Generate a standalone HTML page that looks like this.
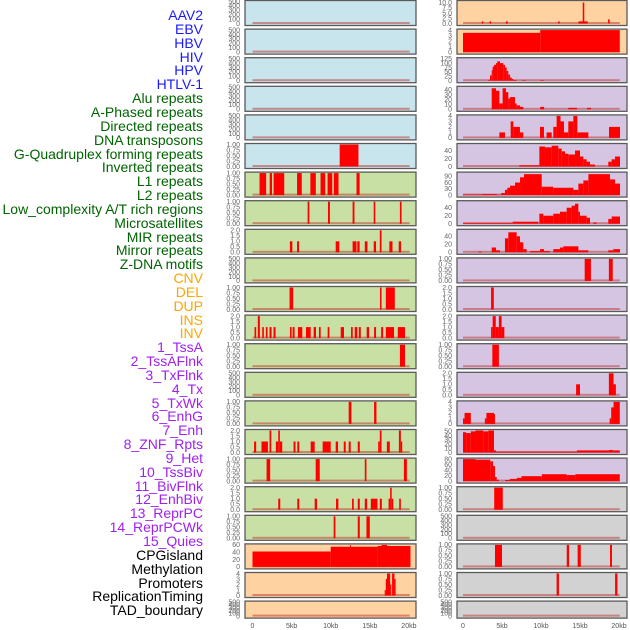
<!DOCTYPE html>
<html><head><meta charset="utf-8"><style>
html,body{margin:0;padding:0;background:#fff;}
svg{display:block;font-family:"Liberation Sans",sans-serif;}
</style></head><body>
<svg id="chart" width="630" height="630" viewBox="0 0 630 630" xmlns="http://www.w3.org/2000/svg">
<g id="labels" font-size="14" text-anchor="end">
<text x="203" y="20" fill="#1a1aff">AAV2</text>
<text x="203" y="34" fill="#1a1aff">EBV</text>
<text x="203" y="48" fill="#1a1aff">HBV</text>
<text x="203" y="62" fill="#1a1aff">HIV</text>
<text x="203" y="75" fill="#1a1aff">HPV</text>
<text x="203" y="89" fill="#1a1aff">HTLV-1</text>
<text x="203" y="103" fill="#006400">Alu repeats</text>
<text x="203" y="117" fill="#006400">A-Phased repeats</text>
<text x="203" y="131" fill="#006400">Directed repeats</text>
<text x="203" y="145" fill="#006400">DNA transposons</text>
<text x="203" y="159" fill="#006400">G-Quadruplex forming repeats</text>
<text x="203" y="172" fill="#006400">Inverted repeats</text>
<text x="203" y="186" fill="#006400">L1 repeats</text>
<text x="203" y="200" fill="#006400">L2 repeats</text>
<text x="203" y="214" fill="#006400">Low_complexity A/T rich regions</text>
<text x="203" y="228" fill="#006400">Microsatellites</text>
<text x="203" y="242" fill="#006400">MIR repeats</text>
<text x="203" y="255" fill="#006400">Mirror repeats</text>
<text x="203" y="269" fill="#006400">Z-DNA motifs</text>
<text x="203" y="283" fill="#ffa500">CNV</text>
<text x="203" y="297" fill="#ffa500">DEL</text>
<text x="203" y="311" fill="#ffa500">DUP</text>
<text x="203" y="325" fill="#ffa500">INS</text>
<text x="203" y="338" fill="#ffa500">INV</text>
<text x="203" y="352" fill="#a020f0">1_TssA</text>
<text x="203" y="366" fill="#a020f0">2_TssAFlnk</text>
<text x="203" y="380" fill="#a020f0">3_TxFlnk</text>
<text x="203" y="394" fill="#a020f0">4_Tx</text>
<text x="203" y="408" fill="#a020f0">5_TxWk</text>
<text x="203" y="421" fill="#a020f0">6_EnhG</text>
<text x="203" y="435" fill="#a020f0">7_Enh</text>
<text x="203" y="449" fill="#a020f0">8_ZNF_Rpts</text>
<text x="203" y="463" fill="#a020f0">9_Het</text>
<text x="203" y="477" fill="#a020f0">10_TssBiv</text>
<text x="203" y="491" fill="#a020f0">11_BivFlnk</text>
<text x="203" y="504" fill="#a020f0">12_EnhBiv</text>
<text x="203" y="518" fill="#a020f0">13_ReprPC</text>
<text x="203" y="532" fill="#a020f0">14_ReprPCWk</text>
<text x="203" y="546" fill="#a020f0">15_Quies</text>
<text x="203" y="560" fill="#000">CPGisland</text>
<text x="203" y="574" fill="#000">Methylation</text>
<text x="203" y="588" fill="#000">Promoters</text>
<text x="203" y="601" fill="#000">ReplicationTiming</text>
<text x="203" y="615" fill="#000">TAD_boundary</text>
</g>
<g id="panels"></g>
<g id="xaxis" font-size="7" fill="#555" text-anchor="middle"></g>
</svg>
<script>
// segments: [startKb, endKb, value]
const L5=[[11.15,13.55,1]];
const L6=[[0.9,1.75,1],[2.2,2.5,1],[2.7,4.06,1],[5.7,6.3,1],[7.4,8.1,1],[8.7,9.3,1],[9.6,10.2,1],[10.4,11.0,1],[13.3,13.7,1]];
const L7=[[7.05,7.27,1],[9.65,9.9,1],[12.8,13.04,1],[15.5,15.7,1],[18.85,19.06,1]];
const L8=[[4.78,5.1,1],[5.7,5.95,1],[10.64,11.1,1],[12.8,13.3,1],[13.4,13.7,1],[14.36,14.7,1],[15.5,15.8,1],[16.28,16.5,2],[17.5,17.9,1],[18.7,19.0,1]];
const L10=[[4.74,5.2,1],[16.3,16.5,1],[17.05,18.2,1]];
const L11=[[0.26,0.47,1],[0.68,0.94,2],[1.24,1.45,1],[1.71,1.92,1],[2.18,2.44,1],[2.69,2.95,1],[4.79,5.0,1],[5.13,5.38,1],[5.81,6.37,1],[6.84,7.44,1],[7.82,8.12,1],[8.5,8.72,1],[9.61,9.83,1],[11.28,11.7,1],[12.6,12.82,1],[13.07,13.4,1],[13.59,13.85,1],[14.6,14.91,1],[15.55,15.8,1],[16.45,16.7,1],[17.05,18.1,1],[18.58,19.5,1]];
const L12=[[18.85,19.5,1]];
const L14=[[12.3,12.65,1],[15.55,15.85,1]];
const L15=[[0.2,0.47,1],[1.15,1.97,1],[2.18,2.4,2],[2.99,3.29,1],[3.29,3.5,2],[3.5,3.8,1],[5.25,5.5,1],[5.73,5.98,1],[7.44,7.95,1],[8.97,10.0,1],[10.64,10.94,1],[11.67,11.92,1],[12.3,12.56,1],[13.46,13.72,1],[16.07,16.28,1],[16.28,16.5,2],[17.18,17.56,1],[18.72,18.97,2],[18.97,19.15,1]];
const L16=[[1.8,2.26,1],[8.08,8.6,1],[14.36,14.57,1],[19.36,19.74,1]];
const L17=[[3.29,3.55,1],[5.73,5.98,1],[7.95,8.25,1],[10.68,10.98,1],[12.73,12.95,1],[13.46,13.72,1],[14.36,14.66,1],[15.13,15.98,1],[16.28,16.54,1],[17.4,17.6,1],[17.6,17.8,2],[17.8,18.0,1],[18.76,18.97,1]];
const L18=[[10.38,10.6,1],[13.46,13.72,1],[14.57,15.0,1]];
const L19=[[0,10,42],[10,16,55],[16,20.2,57],[12.5,12.6,60],[16.5,17.2,60]];
const L20=[[16.9,17.05,1],[17.05,17.2,3],[17.2,17.6,4],[17.6,17.75,2],[17.85,18.15,4],[18.15,18.3,3]];
const R0=[[2.4,2.6,1],[3.4,3.6,1],[5.5,5.75,1],[12.2,12.4,1],[14.8,16.0,1],[15.35,15.55,10],[18.6,18.8,2]];
const R1=[[0,9.9,3.5],[9.9,20.1,4]];
const R2=[[3.25,3.46,5],[3.46,3.68,30],[3.68,3.8,60],[3.8,3.97,80],[3.97,4.23,90],[4.23,4.4,100],[4.4,4.74,110],[4.74,5.17,100],[5.17,5.38,90],[5.38,5.6,75],[5.6,5.81,55],[5.81,6.03,35],[6.03,6.24,18],[6.24,6.45,10],[6.45,6.88,4],[7.6,8.1,3],[9.9,10.4,3]];
const R3=[[3.68,4.23,43],[4.23,4.66,38],[4.66,5.08,12],[5.08,5.51,43],[5.51,5.81,35],[5.81,6.03,22],[6.03,6.67,25],[6.67,6.88,12],[6.88,7.31,8],[7.31,7.73,5],[9.9,10.4,5],[13.5,14.6,3],[15.9,16.4,3]];
const R4=[[4.66,5.38,1],[6.11,6.45,3],[6.45,7.3,2],[7.3,7.73,1],[9.87,10.38,2],[10.72,11.37,1],[11.58,12.0,2],[12.0,12.5,4],[12.5,12.95,3],[12.95,13.5,1],[13.5,14.15,3],[14.15,14.66,4],[14.66,16.07,1],[18.72,20.13,2]];
const R5=[[7.22,9.79,3],[9.79,10.51,50],[10.51,11.37,48],[11.37,12.22,52],[12.22,12.65,45],[12.65,13.08,38],[13.08,13.5,32],[13.5,14.36,30],[14.36,15.0,40],[15.0,15.43,25],[15.43,15.85,18],[15.85,16.28,12],[16.28,16.92,5],[18.63,19.06,12],[19.06,19.49,18],[19.49,20.13,25]];
const R6=[[0,2.4,3],[2.4,4.32,5],[4.32,4.9,2],[4.9,5.38,10],[5.38,5.68,25],[5.68,6.03,35],[6.03,6.67,45],[6.67,7.31,60],[7.31,7.82,85],[7.82,10.09,100],[10.09,11.58,40],[11.58,14.15,35],[14.15,14.79,25],[14.79,15.43,55],[15.43,16.07,70],[16.07,18.85,100],[18.85,19.49,75],[19.49,20.13,55]];
const R7=[[0,6.37,2],[6.37,9.66,5],[9.79,10.3,25],[10.3,11.58,20],[11.58,12.43,25],[12.43,13.29,30],[13.29,13.93,40],[13.93,14.36,45],[14.36,14.79,50],[14.79,15.0,30],[15.0,15.85,20],[15.85,16.28,15],[16.71,17.14,3],[18.63,19.06,12],[19.06,20.13,18]];
const R8=[[2.0,2.4,2],[3.68,4.23,12],[4.23,4.74,5],[5.38,5.81,35],[5.81,6.88,50],[6.88,7.31,40],[7.31,7.73,25],[7.73,8.16,8],[8.59,9.87,3],[9.87,10.38,8],[10.38,11.15,3],[11.58,12.43,8],[12.43,12.86,12],[12.86,14.79,15],[14.79,16.07,5],[18.63,19.27,5],[19.27,20.13,8]];
const R9=[[15.6,16.4,1],[18.7,19.2,1]];
const R10=[[3.6,3.95,2]];
const R11=[[3.6,3.8,1],[3.8,4.2,2],[4.2,4.6,1],[4.6,4.95,2],[4.95,5.3,1]];
const R12=[[3.76,4.6,1]];
const R13=[[14.5,15.0,1],[18.7,19.3,2],[19.3,19.6,1]];
const R14=[[0,0.2,1],[0.2,1.0,2],[2.8,3.0,1],[3.0,3.98,2],[3.98,4.1,1.8],[18.8,19.0,1],[19.0,19.3,3],[19.3,20.1,4]];
const R15=[[0,0.4,48],[0.4,1.0,46],[1.0,1.6,50],[1.6,2.6,52],[2.6,3.25,50],[3.25,3.97,52],[3.97,4.23,5],[4.23,14.6,2],[14.6,18.7,5],[18.7,19.2,6],[19.2,20.1,5]];
const R16=[[0,1.6,80],[1.6,3.5,78],[3.5,3.85,72],[3.85,4.1,55],[4.1,4.32,15],[4.32,4.62,5],[5.4,6.0,4],[6.0,6.9,8],[6.9,7.5,12],[7.5,10.1,18],[10.1,13.3,25],[13.3,14.4,22],[14.4,20.1,25]];
const R17=[[4.0,5.1,1]];
const R19=[[4.1,5.0,1],[13.3,13.6,1],[14.7,15.1,1],[18.85,19.1,1]];
const R20=[[12.0,12.3,1],[19.5,19.8,1]];
const xTickKb=[0,5,10,15,20];
const xTickLabels=["0","5kb","10kb","15kb","20kb"];

// tick specs: [topTick, step, decimals, ymax]
const T500=[500,100,0,500], T1=[1,0.25,2,1], T2=[2,0.5,1,2], T4=[4,1,0,4];
const leftTracks=[[],[],[],[],[],L5,L6,L7,L8,[],L10,L11,L12,[],L14,L15,L16,L17,L18,L19,L20,[]];
const leftTicks=[T500,T500,T500,T500,T500,T1,T1,T1,T2,T500,T1,T2,T1,T500,T1,T2,T1,T2,T1,[60,20,0,60],T4,T500];
const rightTracks=[R0,R1,R2,R3,R4,R5,R6,R7,R8,R9,R10,R11,R12,R13,R14,R15,R16,R17,[],R19,R20,[]];
const rightTicks=[[10,2.5,1,10.5],T4,[125,25,0,125],[40,10,0,45],T4,[40,20,0,55],[90,30,0,105],[40,20,0,55],[40,20,0,55],T1,T2,T2,T1,T2,T4,[50,10,0,52],[80,20,0,80],T1,T500,T1,T1,T500];

const NS="http://www.w3.org/2000/svg";
const panels=document.getElementById('panels');
function mk(tag,attrs,parent){const e=document.createElementNS(NS,tag);for(const k in attrs)e.setAttribute(k,attrs[k]);parent.appendChild(e);return e;}
function leftBg(i){return i<6?'#c8e4ec':(i<19?'#c8e0a4':'#ffd2a2');}
function rightBg(i){return i<2?'#ffd2a2':(i<17?'#d5c5e2':'#d2d2d2');}
const cols=[{x0:245,x1:416,zero:252.5,ppk:7.82,labX:240,tracks:leftTracks,ticks:leftTicks,bg:leftBg,side:'left'},
            {x0:457,x1:627,zero:463,ppk:7.8,labX:452,tracks:rightTracks,ticks:rightTicks,bg:rightBg,side:'right'}];
cols.forEach(c=>{
  for(let i=0;i<22;i++){
    const top=0.5+28.6*i, h=(i===21)?17:25;
    const g=mk('g',{},panels);
    
    
    const r=mk('rect',{x:c.x0,y:top,width:c.x1-c.x0,height:h,fill:c.bg(i),stroke:'none'},g);
    
    
    const spec=c.ticks[i], ymax=spec[3];
    const yb=top+h-2, yt=top+1;
    const ys=v=>yb-(v/ymax)*(yb-yt);
    const xs=k=>c.zero+k*c.ppk;
    // baseline band
    const base=mk('rect',{x:xs(0),y:yb-1.5,width:xs(20.1)-xs(0),height:2,fill:'#c0403a',opacity:0.55},g);
    
    
    c.tracks[i].forEach(s=>{
      const b=mk('rect',{x:xs(s[0]),y:ys(s[2]),width:Math.max(0.8,xs(s[1])-xs(s[0])),height:yb-ys(s[2]),fill:'#ff0000'},g);
      
      
    });
    mk('rect',{x:c.x0,y:top,width:c.x1-c.x0,height:h,fill:'none',stroke:'#5a5a5a','stroke-width':1.3},g);
    for(let v=0;v<=spec[0]+1e-9;v+=spec[1]){
      const t=mk('text',{x:c.labX,y:ys(v)+2.3,'font-size':7,fill:'#666','text-anchor':'end'},g);
      t.textContent=v.toFixed(spec[2]);
      
      
    }
  }
  const xa=document.getElementById('xaxis');
  xTickKb.forEach((k,j)=>{
    const t=mk('text',{x:c.zero+k*c.ppk,y:628},xa);
    t.textContent=xTickLabels[j];
    
    
  });
});
</script>
</body></html>
